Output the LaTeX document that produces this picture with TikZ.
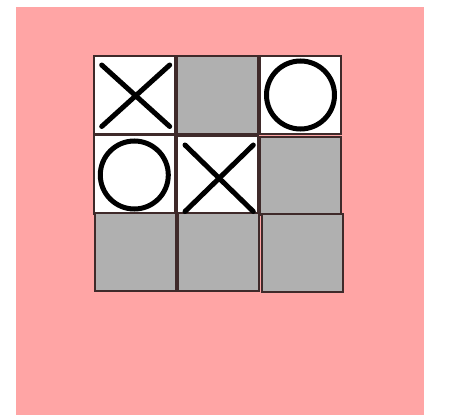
\documentclass[tikz,border=0pt]{standalone}
\usetikzlibrary{calc}
\begin{document}
\begin{tikzpicture}[x=1pt,y=-1pt,
  cellbox/.style={draw=cellline,line width=2pt,minimum width=81pt,minimum height=78pt,inner sep=0pt,outer sep=0pt},
  blank/.style={cellbox,fill=white},
  shaded/.style={cellbox,fill=cellgray},
  markline/.style={line width=5pt,line cap=round,black},
  ring/.style={line width=5pt,black}]
\definecolor{bgpink}{HTML}{FFA5A5}
\definecolor{cellgray}{HTML}{B0B0B0}
\definecolor{cellline}{HTML}{3F2A2A}
\useasboundingbox (0,0) rectangle (458,417);
\fill[white] (0,0) rectangle (458,417);
\fill[bgpink] (16,7) rectangle (424,415);
% row 1
\node[blank]  (c11) at (134.7,95.5) {};
\node[shaded] (c12) at (217.2,95.5) {};
\node[blank]  (c13) at (300.5,95.5) {};
% row 2
\node[blank]  (c21) at (134.7,174.5) {};
\node[blank]  (c22) at (217.5,175.3) {};
\node[shaded] (c23) at (300.8,175.8) {};
% row 3
\node[shaded] (c31) at (135,252.2) {};
\node[shaded] (c32) at (218,252.2) {};
\node[shaded] (c33) at (302,253.3) {};
% marks
\draw[markline] ($(c11)+(-33,-30.5)$) -- ($(c11)+(35,31)$);
\draw[markline] ($(c11)+(-33,31)$) -- ($(c11)+(35,-30.5)$);
\draw[ring] ($(c13)+(0,-0.5)$) circle (34);
\draw[ring] ($(c21)+(-0.4,0.5)$) circle (34);
\draw[markline] ($(c22)+(-32.5,-30.3)$) -- ($(c22)+(35.8,36.2)$);
\draw[markline] ($(c22)+(-32.5,36.2)$) -- ($(c22)+(35.8,-30.3)$);
\end{tikzpicture}
\end{document}
